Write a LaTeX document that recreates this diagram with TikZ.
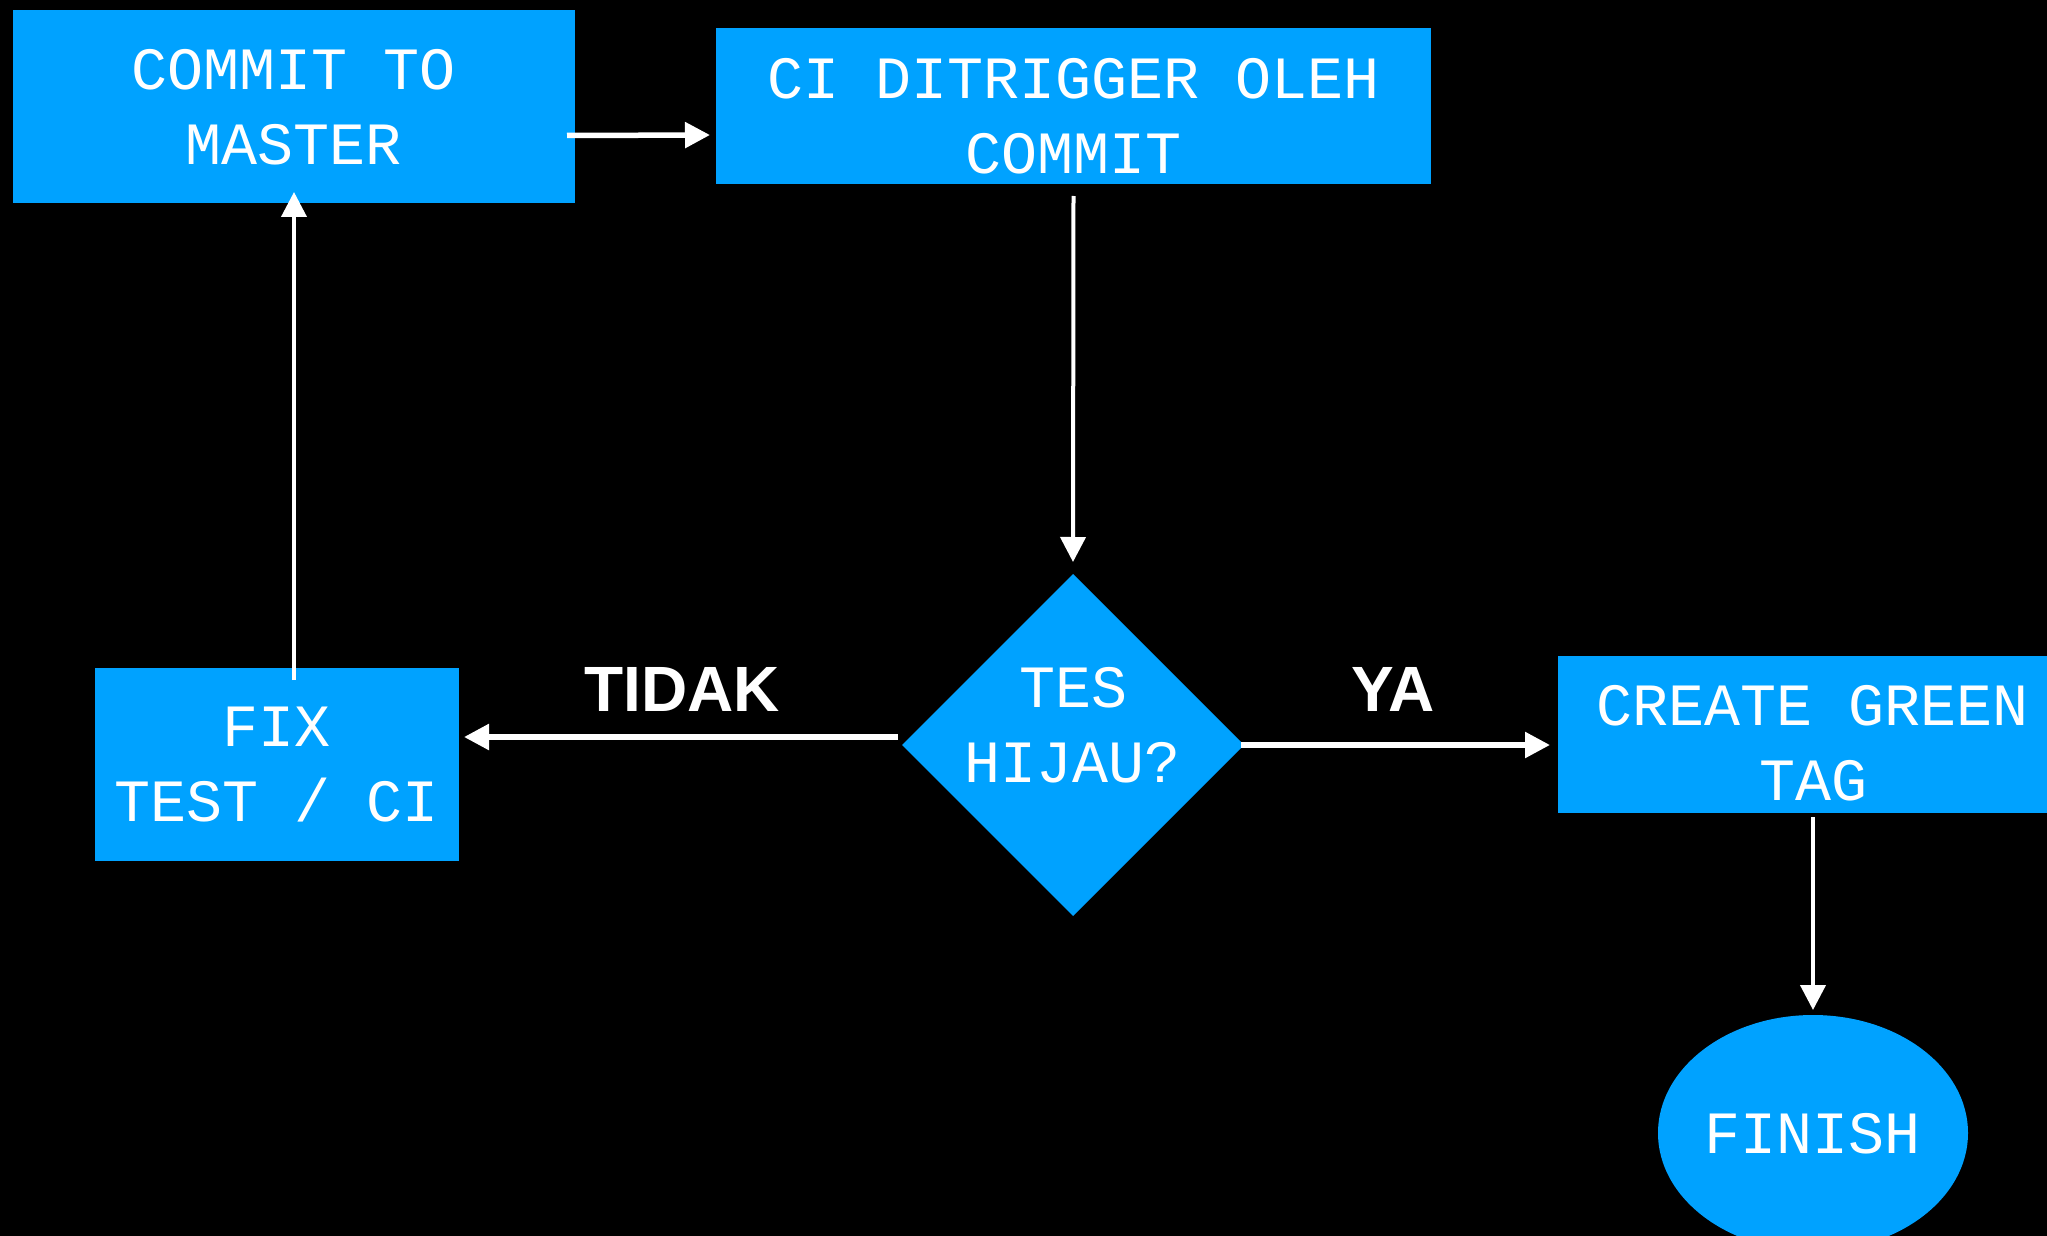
\documentclass[tikz,border=0pt]{standalone}
\usepackage{fontspec}
\newfontfamily\monof{Liberation Mono}
\newfontfamily\labf{Liberation Sans}
\usetikzlibrary{shapes.geometric,arrows.meta,calc}
\definecolor{kblue}{HTML}{00A2FF}
\begin{document}
\begin{tikzpicture}[x=0.5pt,y=-0.5pt,
  boxs/.style={rectangle, fill=kblue, draw=none, inner sep=0pt, outer sep=0pt},
  txt/.style={text=white, font=\monof\fontsize{30pt}{37.5pt}\selectfont, align=center, text depth=0pt, inner sep=0pt},
  harr/.style={draw=white, line width=2.75pt, -{Triangle[length=12.5pt,width=12.5pt]}},
  varr/.style={draw=white, line width=2pt, -{Triangle[length=12.5pt,width=12.5pt]}},
  lab/.style={text=white, font=\labf\bfseries\fontsize{32pt}{38pt}\selectfont, inner sep=0pt, text depth=0pt}]
\useasboundingbox (0,0) rectangle (2047,1236);
\fill[black] (0,0) rectangle (2047,1236);
\clip (0,0) rectangle (2047,1236);

% shapes
\node[boxs, txt, minimum width=281pt, minimum height=96.5pt] (commit) at (294,106.5) {COMMIT TO\\MASTER};
\node[boxs, minimum width=357.5pt, minimum height=78pt] (ci) at (1073.5,106) {};
\node[txt] (citxt) at (1074,116) {CI DITRIGGER OLEH\\COMMIT};
\node[diamond, fill=kblue, draw=none, inner sep=0pt, outer sep=0pt, minimum width=171pt, minimum height=171pt] (dec) at (1073,745) {};
\node[txt] (dectxt) at (1073,724.5) {TES\\HIJAU?};
\node[boxs, txt, minimum width=182pt, minimum height=96.5pt] (fix) at (277,764.5) {FIX\\TEST / CI};
\node[boxs, minimum width=255pt, minimum height=78.5pt] (green) at (1813,734.5) {};
\node[txt] (greentxt) at (1813,743) {CREATE GREEN\\TAG};
\node[ellipse, fill=kblue, draw=none, txt, outer sep=0pt, minimum width=155pt, minimum height=118pt] (finish) at (1813,1133) {FINISH};

% labels
\node[lab] (tidak) at (682,689.5) {TIDAK};
\node[lab] (ya) at (1393,689.5) {YA};

% connectors
\draw[harr] ($(commit.east)+(-8,29)$) -- ($(ci.west)+(-6,29)$);
\draw[varr] ($(ci.south)+(0,12)$) -- ($(dec.north)+(0,-12)$);
\coordinate (tstart) at ($(dec.west)+(-4,-8)$);
\draw[harr] (tstart) -- ($(fix.east |- tstart)+(5,0)$);
\draw[varr] ($(fix.north -| commit.south)+(0,12)$) -- ($(commit.south)+(0,-11)$);
\coordinate (ystart) at ($(dec.east)+(-3,0)$);
\draw[harr] (ystart) -- ($(green.west |- ystart)+(-8,0)$);
\draw[varr] ($(green.south)+(0,4)$) -- ($(finish.north)+(0,-5)$);
\end{tikzpicture}
\end{document}
